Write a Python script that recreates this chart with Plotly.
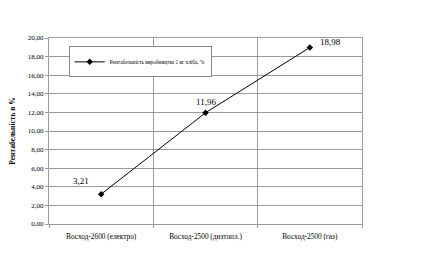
import plotly.graph_objects as go

categories = ["Восход-2600 (електро)", "Восход-2500 (дизтопл.)", "Восход-2500 (газ)"]
values = [3.21, 11.96, 18.98]
value_labels = ["3,21", "11,96", "18,98"]
y_ticks = [0, 2, 4, 6, 8, 10, 12, 14, 16, 18, 20]
y_tick_labels = ["0,00", "2,00", "4,00", "6,00", "8,00", "10,00", "12,00", "14,00", "16,00", "18,00", "20,00"]
series_name = "Рентабельність виробництва 1 кг хліба, %"
y_title = "Рентабельність в %"

label_shift = [(-20, 13), (0, 11), (21, 5)]

SERIF = "Liberation Serif, Times New Roman, serif"

fig = go.Figure()
fig.add_trace(go.Scatter(
    x=categories, y=values, mode="lines+markers", name=series_name,
    line=dict(color="black", width=1),
    marker=dict(symbol="diamond", size=5, color="black"),
))

for c, v, t, (dx, dy) in zip(categories, values, value_labels, label_shift):
    fig.add_annotation(x=c, y=v, text=t, showarrow=False, xshift=dx, yshift=dy,
                       font=dict(family=SERIF, size=9, color="black"))

fig.update_layout(
    width=425, height=253,
    margin=dict(l=44, r=63, t=38, b=23),
    paper_bgcolor="white", plot_bgcolor="white",
    font=dict(family=SERIF),
    showlegend=True,
    legend=dict(x=0.063, y=0.955, xanchor="left", yanchor="top",
                bgcolor="white", bordercolor="#888888", borderwidth=1,
                font=dict(family=SERIF, size=5.3, color="black"),
                itemwidth=30, tracegroupgap=0),
    xaxis=dict(type="category", range=[-0.5, 2.5], tickson="boundaries",
               showgrid=True, gridcolor="#9a9a9a", gridwidth=1,
               showline=True, linecolor="#9a9a9a", mirror=True,
               ticks="outside", ticklen=3, tickcolor="#9a9a9a",
               ticklabelstandoff=5,
               tickfont=dict(family=SERIF, size=7.3, color="black"),
               ),
    yaxis=dict(range=[0, 20], tickvals=y_ticks, ticktext=y_tick_labels,
               showgrid=True, gridcolor="#9a9a9a", gridwidth=1,
               showline=True, linecolor="#9a9a9a", mirror=True,
               ticks="outside", ticklen=3, tickcolor="#9a9a9a",
               tickfont=dict(family=SERIF, size=7, color="black"),
               title=dict(text="<b>" + y_title + "</b>", standoff=11,
                          font=dict(family=SERIF, size=7.5, color="black")),
               zeroline=False),
)

fig.write_html("out.html")
